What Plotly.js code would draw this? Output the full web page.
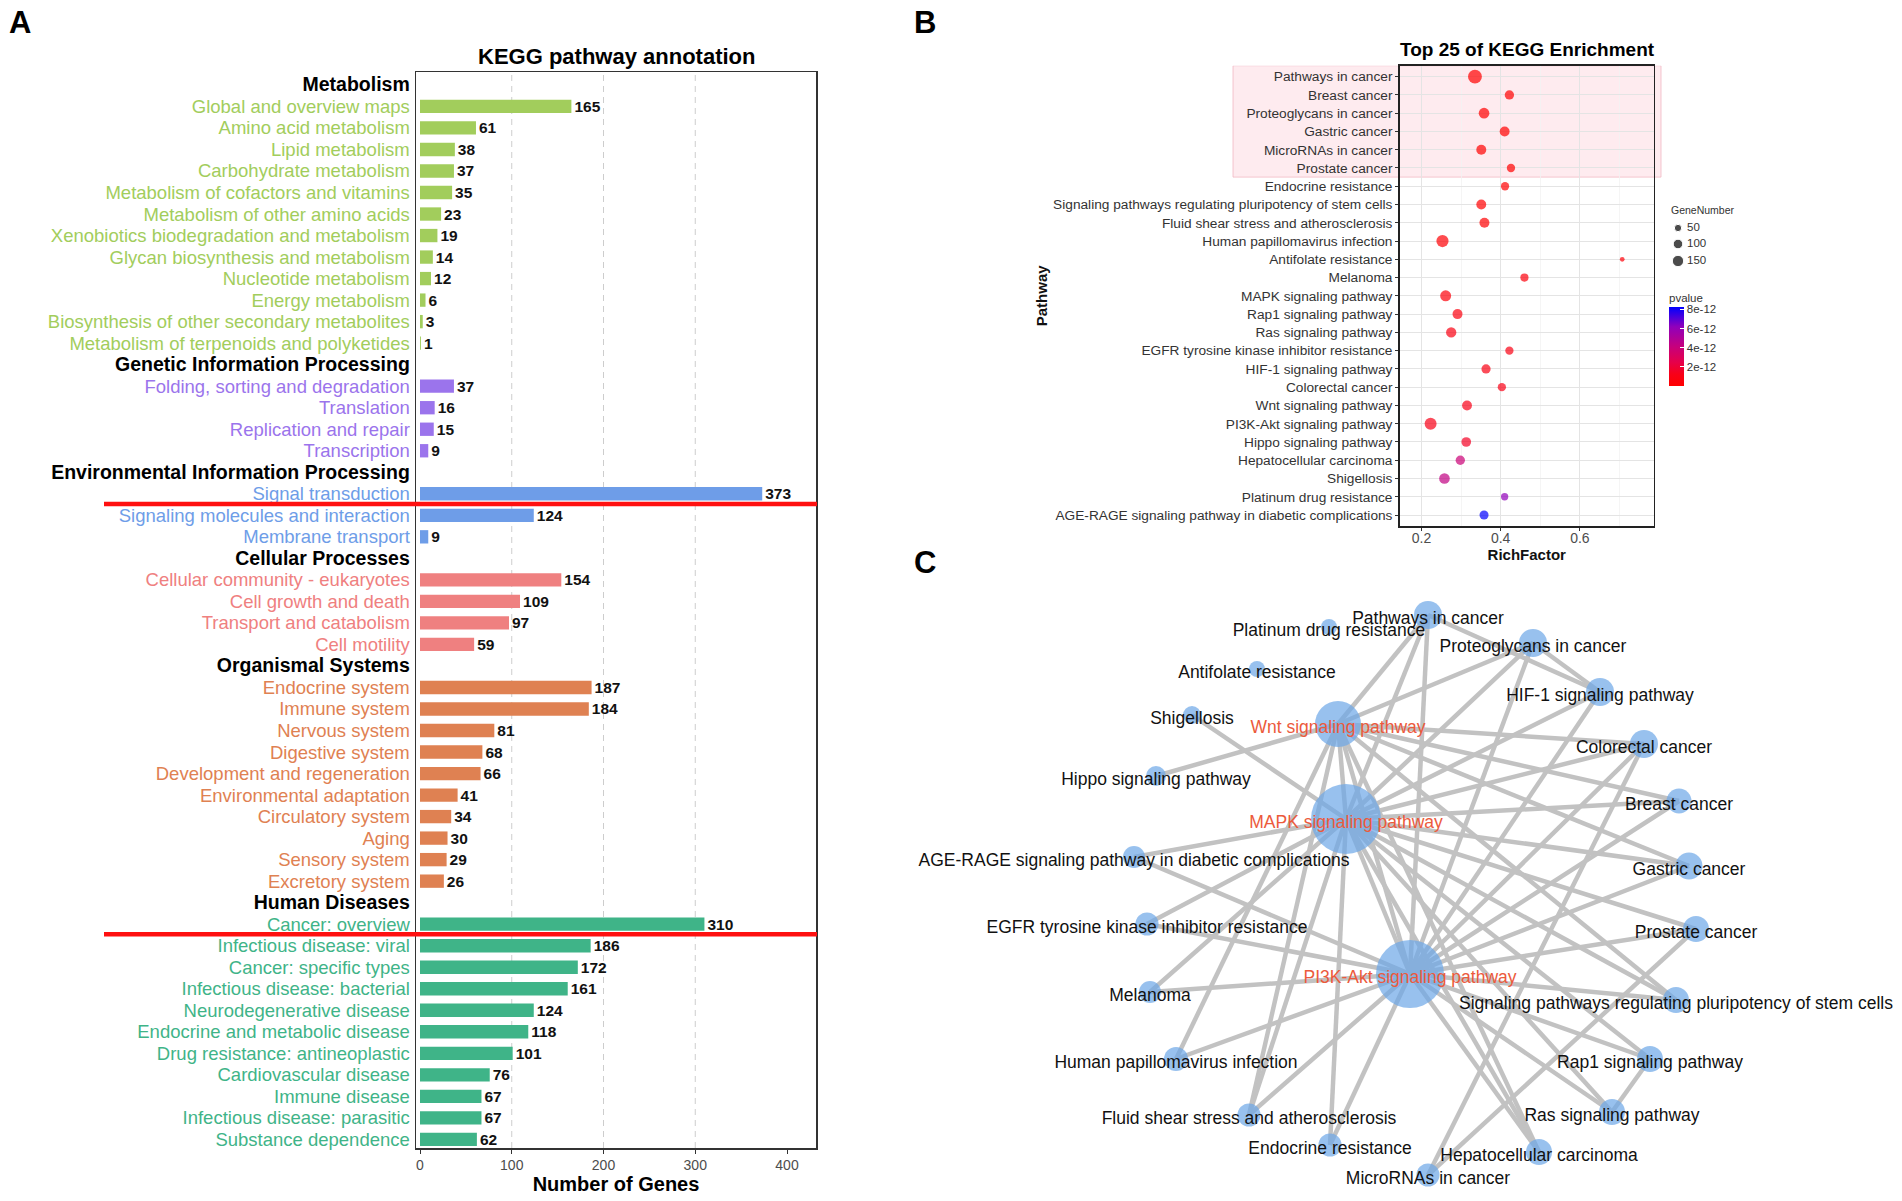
<!DOCTYPE html>
<html><head><meta charset="utf-8">
<script src="https://cdn.plot.ly/plotly-3.0.1.min.js"></script>
<style>html,body{margin:0;padding:0;background:#fff}#chart{width:1902px;height:1201px}</style>
</head><body><div id="chart"></div>
<script>
// ================= DATA =================
// ---- Panel A : KEGG pathway annotation ----
const groupNames = ["Metabolism","Genetic Information Processing","Environmental Information Processing","Cellular Processes","Organismal Systems","Human Diseases"];
const metabolismCats = ["Global and overview maps","Amino acid metabolism","Lipid metabolism","Carbohydrate metabolism","Metabolism of cofactors and vitamins","Metabolism of other amino acids","Xenobiotics biodegradation and metabolism","Glycan biosynthesis and metabolism","Nucleotide metabolism","Energy metabolism","Biosynthesis of other secondary metabolites","Metabolism of terpenoids and polyketides"];
const metabolismVals = [165,61,38,37,35,23,19,14,12,6,3,1];
const geneticCats = ["Folding, sorting and degradation","Translation","Replication and repair","Transcription"];
const geneticVals = [37,16,15,9];
const environmentalCats = ["Signal transduction","Signaling molecules and interaction","Membrane transport"];
const environmentalVals = [373,124,9];
const cellularCats = ["Cellular community - eukaryotes","Cell growth and death","Transport and catabolism","Cell motility"];
const cellularVals = [154,109,97,59];
const organismalCats = ["Endocrine system","Immune system","Nervous system","Digestive system","Development and regeneration","Environmental adaptation","Circulatory system","Aging","Sensory system","Excretory system"];
const organismalVals = [187,184,81,68,66,41,34,30,29,26];
const diseaseCats = ["Cancer: overview","Infectious disease: viral","Cancer: specific types","Infectious disease: bacterial","Neurodegenerative disease","Endocrine and metabolic disease","Drug resistance: antineoplastic","Cardiovascular disease","Immune disease","Infectious disease: parasitic","Substance dependence"];
const diseaseVals = [310,186,172,161,124,118,101,76,67,67,62];
const xTicksA = [0,100,200,300,400];
const highlightAfter = ["Signal transduction","Cancer: overview"];

// ---- Panel B : Top 25 of KEGG Enrichment ----
const enrichPathways = ["Pathways in cancer","Breast cancer","Proteoglycans in cancer","Gastric cancer","MicroRNAs in cancer","Prostate cancer","Endocrine resistance","Signaling pathways regulating pluripotency of stem cells","Fluid shear stress and atherosclerosis","Human papillomavirus infection","Antifolate resistance","Melanoma","MAPK signaling pathway","Rap1 signaling pathway","Ras signaling pathway","EGFR tyrosine kinase inhibitor resistance","HIF-1 signaling pathway","Colorectal cancer","Wnt signaling pathway","PI3K-Akt signaling pathway","Hippo signaling pathway","Hepatocellular carcinoma","Shigellosis","Platinum drug resistance","AGE-RAGE signaling pathway in diabetic complications"];
const richFactor = [0.335,0.422,0.358,0.410,0.351,0.426,0.411,0.351,0.359,0.253,0.707,0.460,0.261,0.291,0.275,0.422,0.363,0.403,0.315,0.223,0.313,0.298,0.258,0.410,0.358];
const geneNumber = [235,95,130,110,112,72,70,110,112,178,9,68,140,112,120,70,92,70,110,170,104,95,130,50,88];
const pValue = [2e-25,3e-16,5e-17,4e-16,2e-16,6e-15,3e-14,8e-14,1e-13,2e-13,4e-13,6e-13,5e-13,7e-13,9e-13,1.0e-12,1.0e-12,1.1e-12,1.2e-12,1.2e-12,1.5e-12,3.9e-12,4.3e-12,6.1e-12,8.2e-12];
const sizeLegendValues = [50,100,150];
const pTicks = [2e-12,4e-12,6e-12,8e-12];
const pTickText = ["2e-12","4e-12","6e-12","8e-12"];
const highlightedPathways = enrichPathways.slice(0,6);

// ---- Panel C : pathway network ----
const networkNodes = ["Pathways in cancer","Platinum drug resistance","Proteoglycans in cancer","Antifolate resistance","HIF-1 signaling pathway","Shigellosis","Wnt signaling pathway","Colorectal cancer","Hippo signaling pathway","MAPK signaling pathway","Breast cancer","AGE-RAGE signaling pathway in diabetic complications","Gastric cancer","EGFR tyrosine kinase inhibitor resistance","Prostate cancer","PI3K-Akt signaling pathway","Melanoma","Signaling pathways regulating pluripotency of stem cells","Human papillomavirus infection","Rap1 signaling pathway","Fluid shear stress and atherosclerosis","Ras signaling pathway","Endocrine resistance","Hepatocellular carcinoma","MicroRNAs in cancer"];
const hubNodes = ["Wnt signaling pathway","MAPK signaling pathway","PI3K-Akt signaling pathway"];
const W_ = "Wnt signaling pathway", M_ = "MAPK signaling pathway", P_ = "PI3K-Akt signaling pathway";
const networkEdges = [
 [W_,M_],[W_,P_],[M_,P_],
 [W_,"Pathways in cancer"],[W_,"Proteoglycans in cancer"],[W_,"Colorectal cancer"],[W_,"Breast cancer"],[W_,"Gastric cancer"],[W_,"Hippo signaling pathway"],[W_,"Human papillomavirus infection"],[W_,"Fluid shear stress and atherosclerosis"],[W_,"Hepatocellular carcinoma"],[W_,"Signaling pathways regulating pluripotency of stem cells"],
 [M_,"Pathways in cancer"],[M_,"Proteoglycans in cancer"],[M_,"HIF-1 signaling pathway"],[M_,"Colorectal cancer"],[M_,"Breast cancer"],[M_,"Gastric cancer"],[M_,"Prostate cancer"],[M_,"Signaling pathways regulating pluripotency of stem cells"],[M_,"Rap1 signaling pathway"],[M_,"Ras signaling pathway"],[M_,"Shigellosis"],[M_,"AGE-RAGE signaling pathway in diabetic complications"],[M_,"EGFR tyrosine kinase inhibitor resistance"],[M_,"Melanoma"],[M_,"Fluid shear stress and atherosclerosis"],[M_,"Endocrine resistance"],[M_,"Hepatocellular carcinoma"],
 [P_,"Pathways in cancer"],[P_,"Proteoglycans in cancer"],[P_,"HIF-1 signaling pathway"],[P_,"Colorectal cancer"],[P_,"Breast cancer"],[P_,"Gastric cancer"],[P_,"Prostate cancer"],[P_,"Signaling pathways regulating pluripotency of stem cells"],[P_,"Rap1 signaling pathway"],[P_,"Ras signaling pathway"],[P_,"AGE-RAGE signaling pathway in diabetic complications"],[P_,"EGFR tyrosine kinase inhibitor resistance"],[P_,"Melanoma"],[P_,"Human papillomavirus infection"],[P_,"Fluid shear stress and atherosclerosis"],[P_,"Endocrine resistance"],[P_,"Hepatocellular carcinoma"],
 ["Pathways in cancer","HIF-1 signaling pathway"],["Proteoglycans in cancer","HIF-1 signaling pathway"],["Rap1 signaling pathway","Ras signaling pathway"],["MicroRNAs in cancer","Colorectal cancer"],["MicroRNAs in cancer","Prostate cancer"]
];

// ================= LAYOUT / STYLE =================
const W = 1902, H = 1201;
const FONT = "Liberation Sans, Arial, Helvetica, sans-serif";
const groupColors = ["#a2cd5c","#9b74ec","#6e9de8","#ef8080","#df8152","#3fb488"];
// network node layout (page pixels): [x, y, diameter]
const nodeLayout = {
 "Pathways in cancer":[1428,615,28], "Platinum drug resistance":[1329,627,16], "Proteoglycans in cancer":[1533,643,28],
 "Antifolate resistance":[1257,669,16], "HIF-1 signaling pathway":[1600,692,28], "Shigellosis":[1192,715,18],
 "Wnt signaling pathway":[1338,724,46], "Colorectal cancer":[1644,744,28], "Hippo signaling pathway":[1156,776,20],
 "MAPK signaling pathway":[1346,819,70], "Breast cancer":[1679,801,25], "AGE-RAGE signaling pathway in diabetic complications":[1134,857,22],
 "Gastric cancer":[1689,866,27], "EGFR tyrosine kinase inhibitor resistance":[1147,924,23], "Prostate cancer":[1696,929,26],
 "PI3K-Akt signaling pathway":[1410,974,68], "Melanoma":[1150,992,22], "Signaling pathways regulating pluripotency of stem cells":[1676,1000,26],
 "Human papillomavirus infection":[1176,1059,24], "Rap1 signaling pathway":[1650,1059,26], "Fluid shear stress and atherosclerosis":[1249,1115,23],
 "Ras signaling pathway":[1612,1112,26], "Endocrine resistance":[1330,1145,23], "Hepatocellular carcinoma":[1539,1152,26],
 "MicroRNAs in cancer":[1428,1175,23]
};
const labelDrop = 5;

// ---- build panel A rows ----
const groupCats = [metabolismCats,geneticCats,environmentalCats,cellularCats,organismalCats,diseaseCats];
const groupVals = [metabolismVals,geneticVals,environmentalVals,cellularVals,organismalVals,diseaseVals];
const rowLabels=[], rowVals=[], rowColors=[], rowText=[], rowTick=[];
groupNames.forEach((g,i)=>{
  rowLabels.push(g); rowVals.push(null); rowColors.push(groupColors[i]); rowText.push("");
  rowTick.push('<b><span style="font-size:19.5px;color:#000">'+g+'</span></b>');
  groupCats[i].forEach((c,j)=>{
    rowLabels.push(c); rowVals.push(groupVals[i][j]); rowColors.push(groupColors[i]); rowText.push(String(groupVals[i][j]));
    rowTick.push('<span style="color:'+groupColors[i]+'">'+c+'</span>');
  });
});
const nRows = rowLabels.length;

const sizeFn = v => Math.sqrt(16 + 0.75*v);

const traces = [];
traces.push({
  type:'bar', orientation:'h', x:rowVals, y:rowLabels, xaxis:'x', yaxis:'y', width:0.62,
  marker:{color:rowColors}, text:rowText, textposition:'outside', cliponaxis:false, constraintext:'none',
  textfont:{family:FONT, size:15.5, color:'#111', weight:'bold'}, hoverinfo:'x+y'
});
traces.push({
  type:'scatter', mode:'markers', x:richFactor, y:enrichPathways, xaxis:'x2', yaxis:'y2', cliponaxis:false,
  marker:{size:geneNumber.map(sizeFn), color:pValue, cmin:0, cmax:8.24e-12,
    colorscale:[[0,'#ff0000'],[0.15,'#f80018'],[0.3,'#e6004a'],[0.5,'#c6007d'],[0.75,'#9000bb'],[1,'#0000ff']],
    line:{width:0}, showscale:true,
    colorbar:{x:1669/W, xanchor:'left', y:1-338/H, yanchor:'middle', len:96, lenmode:'pixels', thickness:15, thicknessmode:'pixels',
      outlinewidth:0, xpad:0, ypad:0, tickmode:'array', tickvals:pTicks, ticktext:pTickText, ticks:'inside', ticklen:4, tickcolor:'#ffffff',
      tickfont:{family:FONT,size:11.5,color:'#333'}, title:{text:'pvalue', side:'top', font:{family:FONT,size:11.5,color:'#333'}}}}
});
// size legend (panel B)
traces.push({type:'scatter', mode:'markers', xaxis:'x3', yaxis:'y3', x:sizeLegendValues.map(()=>1678), y:[228,244,261],
  marker:{size:sizeLegendValues.map(sizeFn), color:'#000'}, hoverinfo:'skip'});
traces.push({type:'scatter', mode:'text', xaxis:'x3', yaxis:'y3', x:sizeLegendValues.map(()=>1687), y:[228,244,261],
  text:sizeLegendValues.map(String), textposition:'middle right', textfont:{family:FONT,size:11.5,color:'#333'}, hoverinfo:'skip'});

// panel C network
const ex=[], ey=[];
networkEdges.forEach(([a,b])=>{const p=nodeLayout[a], q=nodeLayout[b]; ex.push(p[0],q[0],null); ey.push(p[1],q[1],null);});
traces.push({type:'scatter', mode:'lines', xaxis:'x3', yaxis:'y3', x:ex, y:ey, line:{color:'#c2c2c2', width:4.5}, hoverinfo:'skip'});
traces.push({type:'scatter', mode:'markers', xaxis:'x3', yaxis:'y3',
  x:networkNodes.map(n=>nodeLayout[n][0]), y:networkNodes.map(n=>nodeLayout[n][1]), text:networkNodes, hoverinfo:'text',
  marker:{size:networkNodes.map(n=>nodeLayout[n][2]), color:'#6ca7e7', line:{width:0}}});
traces.push({type:'scatter', mode:'text', xaxis:'x3', yaxis:'y3',
  x:networkNodes.map(n=>nodeLayout[n][0]), y:networkNodes.map(n=>nodeLayout[n][1]+labelDrop), text:networkNodes,
  textposition:'middle center', hoverinfo:'skip',
  textfont:{family:FONT, size:17.5, color:networkNodes.map(n=>hubNodes.includes(n)?'#ec5a3c':'#111')}});

// shapes
const shapes = [];
[100,200,300].forEach(v=>shapes.push({type:'line', xref:'x', yref:'y domain', x0:v, x1:v, y0:0, y1:1, layer:'below',
  line:{color:'#cdcdcd', width:1, dash:'6px,5px'}}));
highlightAfter.forEach(name=>{const idx=rowLabels.indexOf(name)+0.47;
  shapes.push({type:'line', xref:'paper', yref:'y', x0:104/W, x1:817/W, y0:idx, y1:idx, line:{color:'#ff1010', width:4.5}, layer:'above'});});
shapes.push({type:'rect', xref:'paper', yref:'y2', x0:1233/W, x1:1661/W, y0:-0.6, y1:highlightedPathways.length-0.5, layer:'below',
  fillcolor:'rgba(252,205,214,0.4)', line:{color:'rgba(240,175,188,0.7)', width:1}});

const ann = (x,y,text,size,opts={}) => Object.assign({xref:'paper', yref:'paper', x:x/W, y:1-y/H, text:text, showarrow:false,
  font:{family:FONT,size:size,color:'#000'}, xanchor:'center', yanchor:'middle'}, opts);
const annotations = [
  ann(20,22,'<b>A</b>',31), ann(925,22,'<b>B</b>',31), ann(925,562,'<b>C</b>',31),
  ann(616,56,'<b>KEGG pathway annotation</b>',22),
  ann(1527,50,'<b>Top 25 of KEGG Enrichment</b>',19),
  ann(1669,210,'GeneNumber',10.5,{xanchor:'left', font:{family:FONT,size:10.5,color:'#333'}})
];

const layout = {
  width:W, height:H, margin:{l:0,r:0,t:0,b:0}, paper_bgcolor:'#fff', plot_bgcolor:'rgba(0,0,0,0)',
  showlegend:false, font:{family:FONT, color:'#000'}, shapes:shapes, annotations:annotations,
  xaxis:{domain:[416/W,816/W], anchor:'y', range:[-4.36,431.6], tickmode:'array', tickvals:xTicksA, ticks:'outside', ticklen:4, tickcolor:'#333',
    tickfont:{family:FONT,size:14,color:'#4d4d4d'}, showline:true, mirror:true, linecolor:'#333', linewidth:1.5, showgrid:false, zeroline:false,
    automargin:false, fixedrange:true, title:{text:'Number of Genes', font:{family:FONT,size:20,color:'#000',weight:'bold'}, standoff:4}},
  yaxis:{domain:[1-1148/H,1-72/H], anchor:'x', type:'category', categoryarray:rowLabels, range:[nRows-0.6,-0.6], tickmode:'array',
    tickvals:rowLabels, ticktext:rowTick, tickfont:{family:FONT,size:18.5}, ticks:'', ticklabelstandoff:1, showline:true, mirror:true,
    linecolor:'#333', linewidth:1.5, showgrid:false, zeroline:false, automargin:false, fixedrange:true},
  xaxis2:{domain:[1400/W,1653.5/W], anchor:'y2', range:[0.1457,0.786], tickmode:'linear', tick0:0.2, dtick:0.2, ticks:'outside', ticklen:3,
    tickcolor:'#333', tickfont:{family:FONT,size:14,color:'#4d4d4d'}, ticklabelstandoff:-5, showgrid:true, gridcolor:'#e4e4e4', gridwidth:1,
    minor:{tickmode:'linear', tick0:0.1, dtick:0.1, showgrid:true, gridcolor:'#f2f2f2', gridwidth:0.8, ticks:''},
    showline:true, mirror:true, linecolor:'#222', linewidth:1.8, zeroline:false, automargin:false, fixedrange:true,
    title:{text:'RichFactor', font:{family:FONT,size:15,color:'#111',weight:'bold'}, standoff:0}},
  yaxis2:{domain:[1-526/H,1-65.7/H], anchor:'x2', type:'category', categoryarray:enrichPathways, range:[enrichPathways.length-0.4,-0.6],
    ticks:'outside', ticklen:3, tickcolor:'#333', tickfont:{family:FONT,size:13.7,color:'#333'}, showgrid:true, gridcolor:'#e4e4e4',
    showline:true, mirror:true, linecolor:'#222', linewidth:1.8, zeroline:false, automargin:false, fixedrange:true,
    title:{text:'Pathway', font:{family:FONT,size:15,color:'#111',weight:'bold'}, standoff:2}},
  xaxis3:{domain:[0,1], anchor:'y3', range:[0,W], visible:false, fixedrange:true},
  yaxis3:{domain:[0,1], anchor:'x3', range:[H,0], visible:false, fixedrange:true}
};
Plotly.newPlot('chart', traces, layout, {displayModeBar:false, staticPlot:true});
</script></body></html>
